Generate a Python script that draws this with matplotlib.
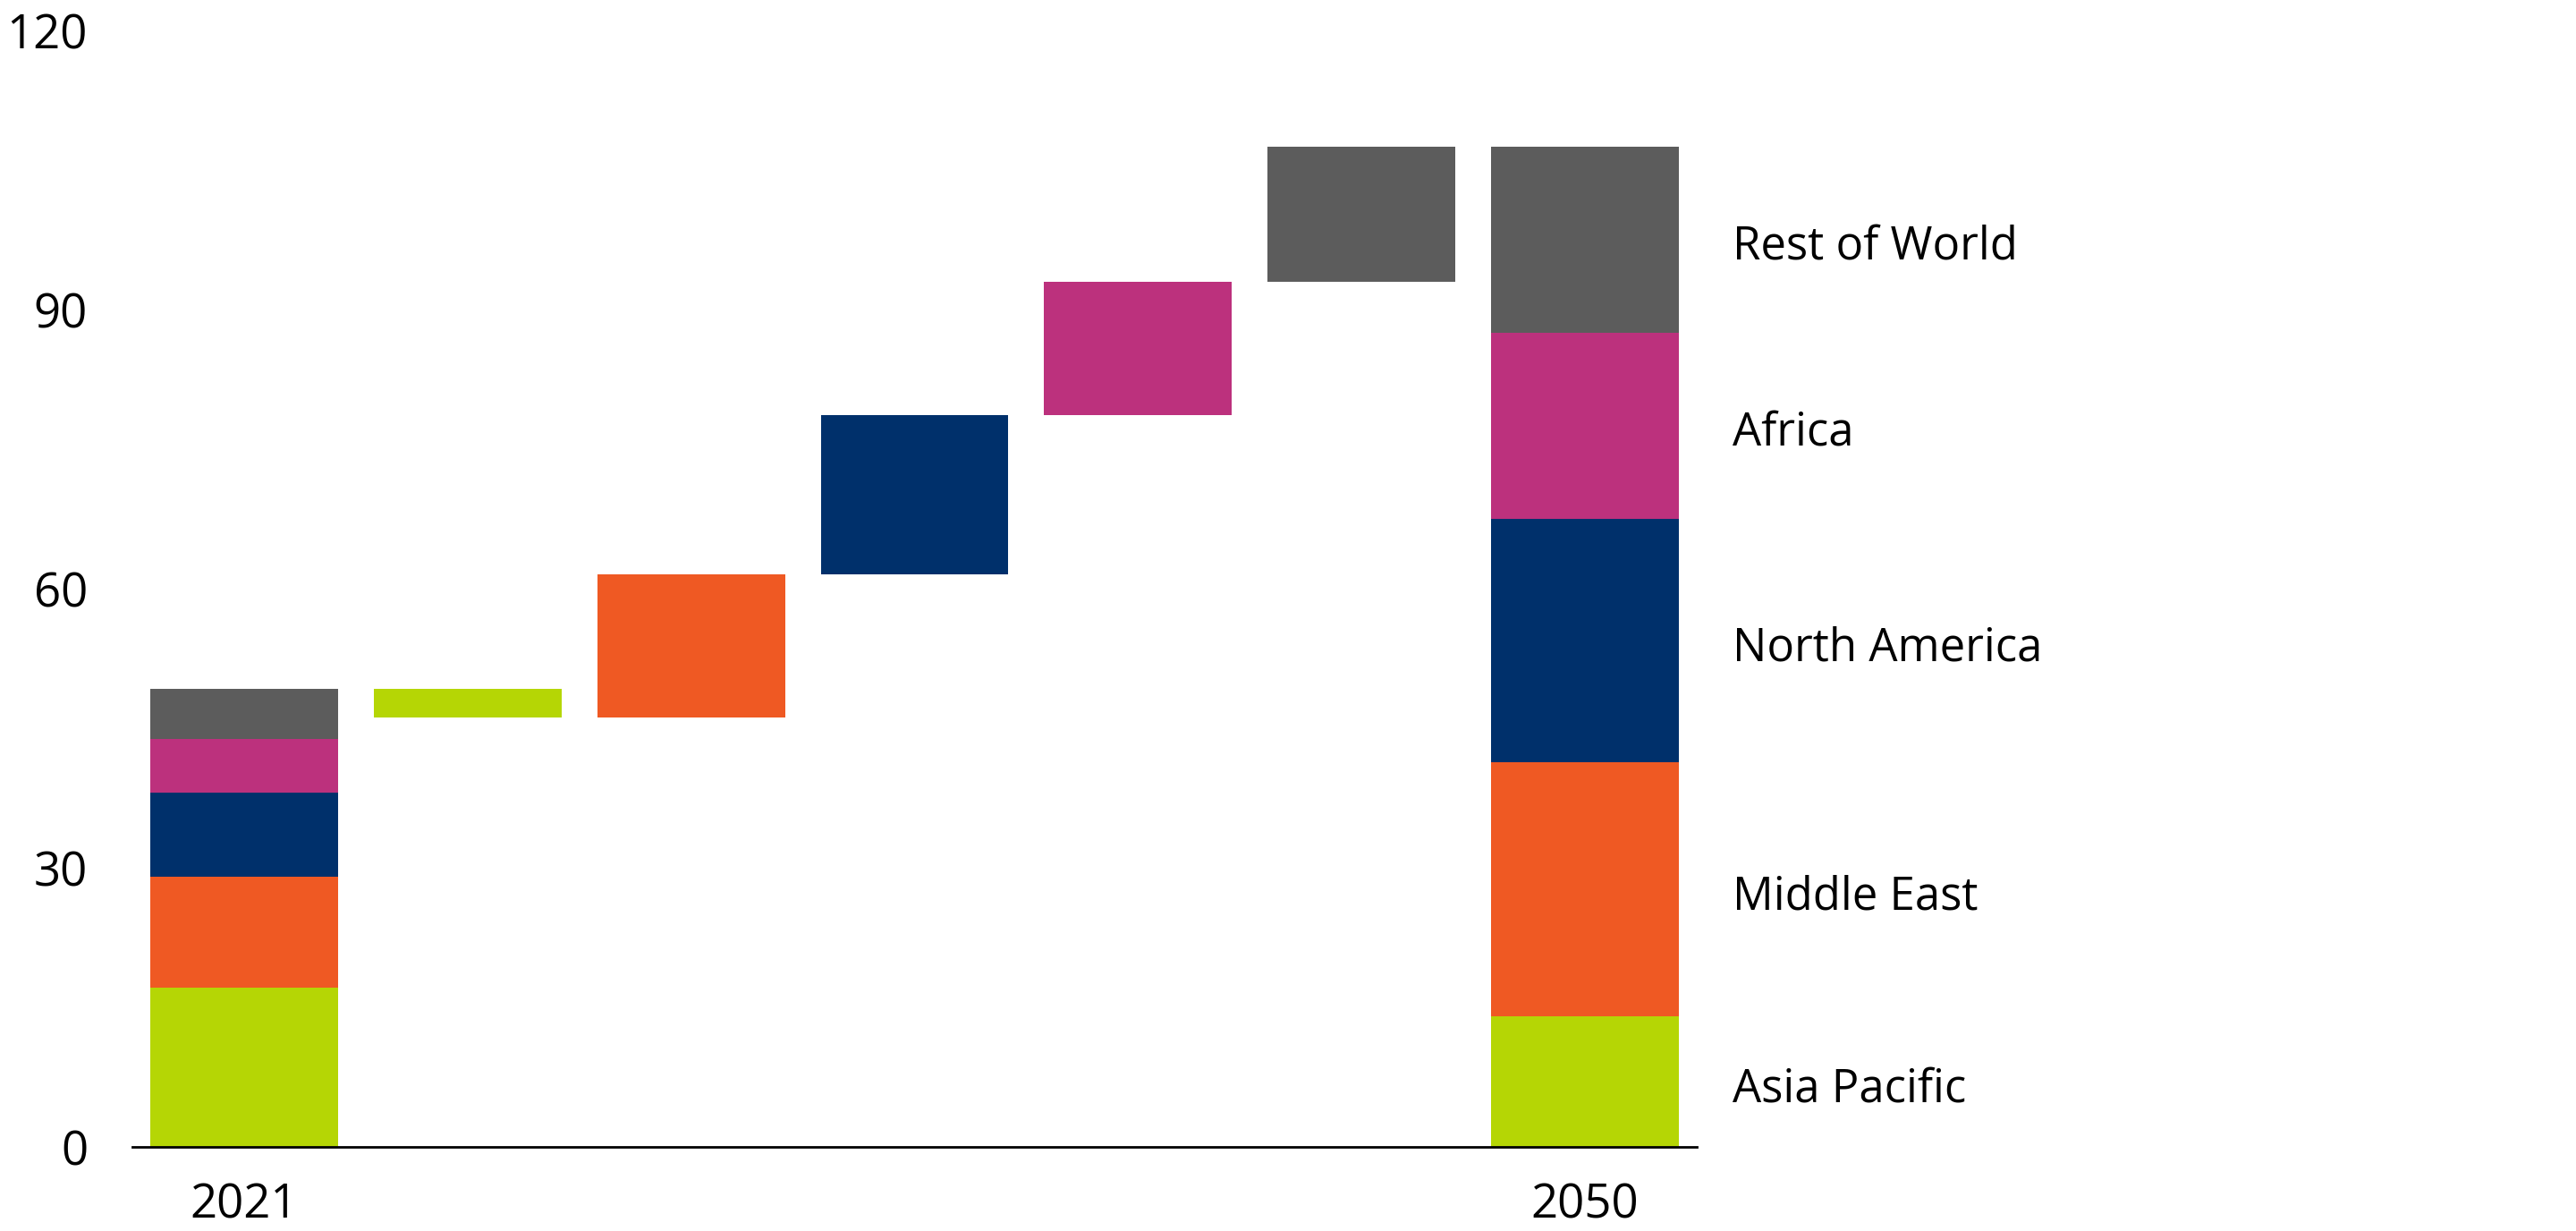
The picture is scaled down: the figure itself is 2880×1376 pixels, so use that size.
import matplotlib
matplotlib.use("Agg")
import matplotlib.pyplot as plt
import numpy as np

plt.rcParams['font.family'] = ['Open Sans', 'DejaVu Sans']

regions = ["Asia Pacific", "Middle East", "North America", "Africa", "Rest of World"]
colors = ["#B5D605", "#EF5923", "#00306B", "#BC317D", "#5C5C5C"]
values_2021 = [17.1, 11.95, 9.05, 5.7, 5.45]
values_2050 = [14.0, 27.3, 26.2, 20.0, 20.0]
year_labels = ["2021", "2050"]
y_ticks = [0, 30, 60, 90, 120]

fig = plt.figure(figsize=(14.4, 6.88), dpi=200)
ax = fig.add_axes([0.0514, 0.0683, 0.6073, 0.907])

n = len(regions)
width = 0.84

# 2021 stacked bar
bottom = 0.0
for v, c in zip(values_2021, colors):
    ax.bar(0, v, width=width, bottom=bottom, color=c, linewidth=0)
    bottom += v

# waterfall changes
level = sum(values_2021)
for i, (a, b, c) in enumerate(zip(values_2021, values_2050, colors)):
    delta = b - a
    ax.bar(i + 1, delta, width=width, bottom=level, color=c, linewidth=0)
    level += delta

# 2050 stacked bar with region labels
bottom = 0.0
x_end = n + 1
for v, c, name in zip(values_2050, colors, regions):
    ax.bar(x_end, v, width=width, bottom=bottom, color=c, linewidth=0)
    ax.text(x_end + 0.66, bottom + v / 2 - 0.8, name, ha='left', va='center',
            fontsize=18.3, color='black', clip_on=False)
    bottom += v

ax.set_xlim(-0.5, n + 1.5)
ax.set_ylim(0, 120)
ax.set_yticks(y_ticks)
ax.set_yticklabels([str(t) for t in y_ticks])
ax.set_xticks([0, x_end])
ax.set_xticklabels(year_labels)
ax.tick_params(axis='both', length=0, labelsize=19, colors='black')
ax.tick_params(axis='y', pad=18)
ax.tick_params(axis='x', pad=14)
for s in ['top', 'right', 'left']:
    ax.spines[s].set_visible(False)
ax.spines['bottom'].set_linewidth(1.0)
ax.spines['bottom'].set_color('black')

fig.savefig("out.png", dpi=200, facecolor='white')
